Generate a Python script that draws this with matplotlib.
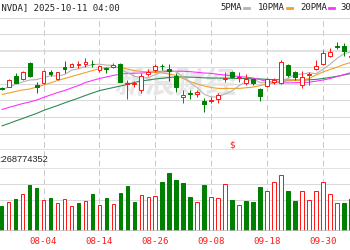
import matplotlib
matplotlib.use("Agg")
import matplotlib.pyplot as plt
from matplotlib.lines import Line2D
from matplotlib.transforms import blended_transform_factory

# ---------------- data ----------------
title = "[NVDA] 2025-10-11 04:00"
ma_labels = ["5PMA", "10PMA", "20PMA", "30PMA"]
date_idx = [-2, 6, 14, 22, 30, 38, 46]
date_labels = ["07-23", "08-04", "08-14", "08-26", "09-08", "09-18", "09-30"]
volume_text = ":268774352"
dividend_idx = 33
dividend_mark = "$"
watermark = "新浪财经"

opens = [178.4, 178.8, 183.6, 182.1, 189.4, 179.5, 180.3, 185.6, 182.1, 187.6,
         187.9, 188.6, 189.3, 189.3, 186.4, 187.3, 187.6, 189.1, 180.2, 180.2,
         177.3, 184.4, 186.4, 188.4, 186.6, 183.6, 174.3, 175.9, 175.3, 172.3,
         172.1, 173.05, 182.4, 185.6, 182.6, 180.3, 182.1, 177.6, 179.2, 181.05,
         180.6, 188.6, 185.6, 179.55, 184.2, 186.7, 188.9, 192.5, 197.3, 197.1,
         192.2]
highs = [178.8, 182.2, 184.9, 185.7, 190.0, 181.05, 186.4, 186.4, 185.6, 190.6,
         189.7, 190.6, 191.7, 190.9, 188.6, 187.5, 189.4, 189.7, 181.8, 181.5,
         184.9, 186.7, 189.1, 189.1, 189.1, 184.9, 177.3, 177.3, 177.3, 173.5,
         174.2, 175.8, 185.6, 186.05, 185.3, 184.5, 182.6, 178.2, 182.6, 182.6,
         190.9, 189.1, 186.05, 186.05, 185.6, 190.9, 195.5, 196.4, 199.1, 198.5,
         193.2]
lows = [177.3, 178.5, 180.3, 181.9, 183.05, 175.8, 179.9, 183.6, 181.8, 184.9,
        187.6, 187.1, 187.6, 187.6, 185.6, 184.9, 187.1, 180.8, 173.05, 178.8,
        176.05, 183.6, 185.5, 186.4, 181.5, 176.5, 171.2, 173.2, 174.2, 167.4,
        171.2, 171.2, 181.05, 182.6, 181.05, 179.55, 179.55, 172.4, 178.8, 179.9,
        180.0, 183.3, 181.8, 178.05, 179.55, 186.4, 188.6, 192.3, 195.8, 192.7,
        191.8]
closes = [177.8, 181.8, 180.6, 185.4, 183.6, 178.8, 186.05, 184.4, 185.3, 186.8,
          189.1, 189.0, 190.0, 188.9, 188.2, 186.8, 188.6, 181.05, 180.6, 180.6,
          183.6, 185.6, 188.3, 188.0, 186.1, 178.8, 174.8, 175.5, 176.5, 170.9,
          172.6, 175.0, 182.8, 183.05, 183.3, 182.3, 180.3, 174.55, 182.1, 181.6,
          190.1, 184.1, 183.4, 183.05, 184.6, 188.2, 194.2, 194.7, 196.8, 194.9,
          192.8]

ma5 = [177.5, 178.6, 179.8, 180.9, 181.8, 182.0, 182.9, 183.7, 183.6, 184.3,
       186.3, 186.9, 188.0, 188.8, 189.0, 188.6, 188.5, 186.7, 185.1, 183.5,
       182.9, 182.8, 184.3, 185.8, 186.5, 185.4, 183.2, 180.6, 178.3, 175.3,
       174.1, 174.1, 175.6, 176.9, 179.3, 181.2, 182.3, 180.6, 180.5, 180.2,
       181.7, 182.5, 184.3, 184.5, 185.1, 184.7, 186.7, 189.0, 191.7, 193.8,
       194.6]
ma10 = [175.2, 175.9, 176.6, 177.3, 177.7, 178.6, 179.5, 180.5, 181.6, 182.5,
        183.4, 184.3, 185.2, 186.1, 187.0, 187.5, 187.7, 187.5, 186.8, 186.1,
        185.7, 185.5, 185.2, 185.0, 184.5, 183.9, 182.5, 181.1, 180.0, 179.1,
        178.4, 178.0, 178.0, 178.0, 178.0, 178.3, 178.6, 179.3, 180.0, 180.7,
        181.1, 181.4, 181.6, 181.8, 182.5, 184.1, 185.5, 186.6, 187.7, 188.9,
        189.8]
ma20 = [168.4, 169.3, 170.2, 171.1, 171.8, 172.7, 173.9, 175.0, 176.1, 177.0,
        178.2, 179.3, 180.7, 181.6, 182.5, 183.2, 183.9, 184.5, 184.8, 184.9,
        185.0, 185.2, 185.5, 185.6, 185.7, 185.8, 185.8, 185.6, 185.3, 185.0,
        184.8, 184.4, 184.1, 183.7, 183.4, 183.1, 182.7, 182.0, 181.1, 180.8,
        180.6, 180.5, 180.6, 180.7, 180.8, 181.3, 181.8, 182.5, 183.4, 184.3,
        185.2]
ma30 = [160.9, 162.0, 163.2, 164.3, 165.5, 166.6, 168.0, 169.1, 170.2, 171.4,
        172.5, 173.6, 174.8, 175.9, 177.0, 177.7, 178.4, 179.1, 179.8, 180.7,
        181.4, 181.8, 182.3, 182.6, 183.0, 183.2, 183.2, 183.1, 183.0, 182.8,
        182.7, 182.7, 182.6, 182.6, 182.5, 182.5, 182.4, 182.3, 182.1, 182.0,
        181.9, 181.8, 181.8, 181.8, 181.9, 182.1, 182.5, 183.0, 183.5, 184.1,
        184.8]

# volume in millions of shares, and whether the bar is drawn red (1) or green (0)
volumes = [120, 138, 152, 176, 219, 205, 148, 157, 133, 152,
           120, 133, 143, 178, 125, 157, 130, 181, 214, 139,
           171, 162, 167, 233, 278, 243, 230, 162, 138, 220,
           162, 157, 224, 148, 124, 143, 138, 209, 190, 233,
           267, 190, 143, 190, 148, 190, 233, 176, 133, 133,
           152]
vol_up = [0, 1, 0, 1, 0, 0, 1, 0, 1, 1,
          1, 0, 1, 0, 1, 0, 1, 0, 0, 0,
          1, 1, 1, 0, 0, 0, 0, 0, 1, 0,
          1, 1, 1, 0, 1, 0, 0, 0, 1, 1,
          1, 0, 0, 1, 1, 1, 1, 1, 1, 0,
          0]

# ---------------- style ----------------
RED = "#ff1a1a"
GREEN = "#008000"
MA_COLORS = ["#b4b4b4", "#f0a22a", "#ff33ff", "#2e8b57"]
GRID = "#d9d9d9"
VGRID = "#c8c8c8"
W, H = 350, 250
PX = 0.72  # one pixel in points at 100 dpi

fig = plt.figure(figsize=(3.5, 2.5), dpi=100)
fig.patch.set_facecolor("white")

n = len(closes)
xs = list(range(n))
step = 6.99
x0 = 1.6
xlim = (-x0 / step, (W - x0) / step)

def fy(py):  # figure-fraction from pixel row (layout only)
    return 1 - py / H

# background axes for vertical dashed grid across both panels
ax_bg = fig.add_axes([0, fy(231), 1, (231 - 18) / H])
ax_bg.set_xlim(*xlim)
ax_bg.set_ylim(0, 1)
ax_bg.axis("off")
for d in date_idx:
    ax_bg.axvline(d, color=VGRID, lw=PX, linestyle=(0, (5.8, 3.5)))

# main price panel
ax = fig.add_axes([0, fy(150), 1, (150 - 18) / H])
ax.patch.set_alpha(0)
for s in ax.spines.values():
    s.set_visible(False)
ax.set_xticks([])
ax.set_yticks([])
for k in range(9):
    val = 150 + 7.5 * k
    lw = 1.5 * PX if val in (150, 195) else PX
    ax.axhline(val, color=GRID, lw=lw, zorder=0.5)

ax.text(0.5, 0.5, watermark, transform=ax.transAxes, ha="center", va="center",
        fontsize=22, fontweight="bold", color="#e6e6e6",
        family=["Noto Sans CJK SC", "DejaVu Sans"], zorder=0.6)

# moving averages
for ma, c in zip([ma30, ma20, ma10, ma5], MA_COLORS[::-1]):
    ax.plot(xs, ma, color=c, lw=0.8, zorder=2, solid_capstyle="butt")

# candles
bw = 0.56
for i in range(n):
    o, h, l, c = opens[i], highs[i], lows[i], closes[i]
    up = c >= o
    col = RED if up else GREEN
    top, bot = max(o, c), min(o, c)
    ax.vlines(i, top, h, color=col, lw=PX, zorder=3)
    ax.vlines(i, l, bot, color=col, lw=PX, zorder=3)
    ax.bar(i, top - bot, bottom=bot, width=bw,
           facecolor="white" if up else GREEN, edgecolor=col, lw=PX, zorder=4)
ax.set_xlim(*xlim)
ax.set_ylim(150, 210)

# dividend marker
tr = blended_transform_factory(ax.transData, ax.transAxes)
ax.text(dividend_idx, 0.04, dividend_mark, transform=tr, ha="center", va="center",
        color=RED, fontsize=6.5, family="DejaVu Sans", zorder=5)

# volume panel
axv = fig.add_axes([0, fy(231), 1, (231 - 168) / H])
axv.patch.set_alpha(0)
for s in axv.spines.values():
    s.set_visible(False)
axv.set_xticks([])
axv.set_yticks([])
for val in (75, 150, 225):
    axv.axhline(val, color=GRID, lw=PX, zorder=0.5)
axv.axhline(300, color=GRID, lw=1.5 * PX, zorder=0.5)
axv.axhline(0, color="#bdbdbd", lw=1.6 * PX, zorder=5)
for i in range(n):
    if vol_up[i]:
        axv.bar(i, volumes[i], width=0.54, facecolor="white", edgecolor=RED, lw=PX, zorder=3)
    else:
        axv.bar(i, volumes[i], width=0.54, facecolor=GREEN, edgecolor=GREEN, lw=PX, zorder=3)
axv.set_xlim(*xlim)
axv.set_ylim(0, 300)

# date labels under the volume panel (the first one runs off the left edge)
trv = blended_transform_factory(axv.transData, axv.transAxes)
for d, lab in zip(date_idx, date_labels):
    axv.text(d, -10.0 / 63, lab, transform=trv, ha="center", va="center",
             family="DejaVu Sans Mono", fontsize=6.6, color=RED, clip_on=False)

# header texts
mono = "DejaVu Sans Mono"
fig.text(-4.4 / W, fy(7.5), title, family=mono, fontsize=6.5, color="#222222",
         ha="left", va="center")
label_x = [220, 258, 300, 340]
for lab, lx, c in zip(ma_labels, label_x, MA_COLORS):
    fig.text(lx / W, fy(7.5), lab, family=mono, fontsize=6.5, color="#222222",
             ha="left", va="center")
    dx0 = lx + 5.5 * len(lab) + 1.5
    fig.add_artist(Line2D([dx0 / W, (dx0 + 5) / W], [fy(8), fy(8)], color=c,
                          lw=2.0, transform=fig.transFigure))

fig.text(-1 / W, fy(160), volume_text, family="Liberation Sans", fontsize=6.7,
         color="#222222", ha="left", va="center")

fig.savefig("out.png", dpi=100, facecolor="white")
